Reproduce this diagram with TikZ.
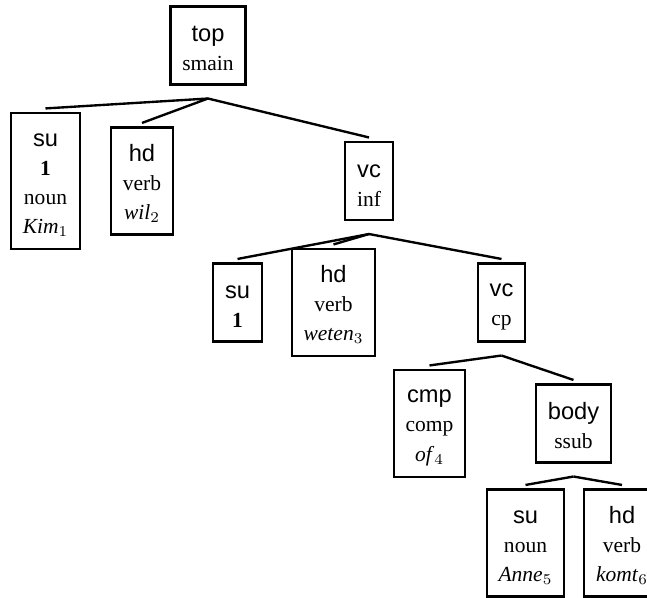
\documentclass[tikz,border=0pt]{standalone}
\usepackage{fontspec}
\setmainfont{Liberation Serif}
\setsansfont{Liberation Sans}
\newcommand{\rowstrut}{\rule[-3.5pt]{0pt}{13.5pt}}
\newcommand{\rel}[1]{{\sffamily\fontsize{11}{13.5}\selectfont\rowstrut #1}}
\tikzset{
  cat/.style={draw, line width=1.1pt, inner xsep=5.5pt, inner ysep=4.6pt,
    align=center, font=\fontsize{10}{13.5}\selectfont,
    minimum height={(#1*13.5+9.2)*1pt}},
  cat/.default=2,
  branch/.style={line width=1.1pt}
}

\begin{document}
\begin{tikzpicture}[x=0.465pt, y=-0.465pt]

  \useasboundingbox (0,0) rectangle (647,597);

  % Levels
  \def\yA{45.5}
  \def\yB{181}
  \def\yC{302.5}
  \def\yD{423.5}
  \def\yE{543}

  % Nodes
  \node[cat] (top) at (208,\yA) {\rel{top}\\smain};

  \node[cat=4] (su1) at (45.5,\yB) {\rel{su}\\\textbf{1}\\noun\\\textit{Kim}$_1$};
  \node[cat=3] (hd1) at (142,\yB) {\rel{hd}\\verb\\\textit{wil}$_2$};
  \node[cat] (vc1) at (369,\yB) {\rel{vc}\\inf};

  \node[cat] (su2) at (237.5,\yC) {\rel{su}\\\textbf{1}};
  \node[cat=3] (hd2) at (333.5,\yC) {\rel{hd}\\verb\\\textit{weten}$_3$};
  \node[cat] (vc2) at (501.5,\yC) {\rel{vc}\\cp};

  \node[cat=3] (cmp) at (429.5,\yD) {\rel{cmp}\\comp\\\textit{of}$_4$};
  \node[cat] (body) at (573.5,\yD) {\rel{body}\\ssub};

  \node[cat=3] (su3) at (525.5,\yE) {\rel{su}\\noun\\\textit{Anne}$_5$};
  \node[cat=3] (hd3) at (622,\yE) {\rel{hd}\\verb\\\textit{komt}$_6$};

  % Branches
  \foreach \p/\c in {top/su1, top/hd1, top/vc1, vc1/su2, vc1/hd2, vc1/vc2,
                     vc2/cmp, vc2/body, body/su3, body/hd3}
    \draw[branch] ([yshift=-6pt]\p.south) -- ([yshift=1.6pt]\c.north);

\end{tikzpicture}
\end{document}
